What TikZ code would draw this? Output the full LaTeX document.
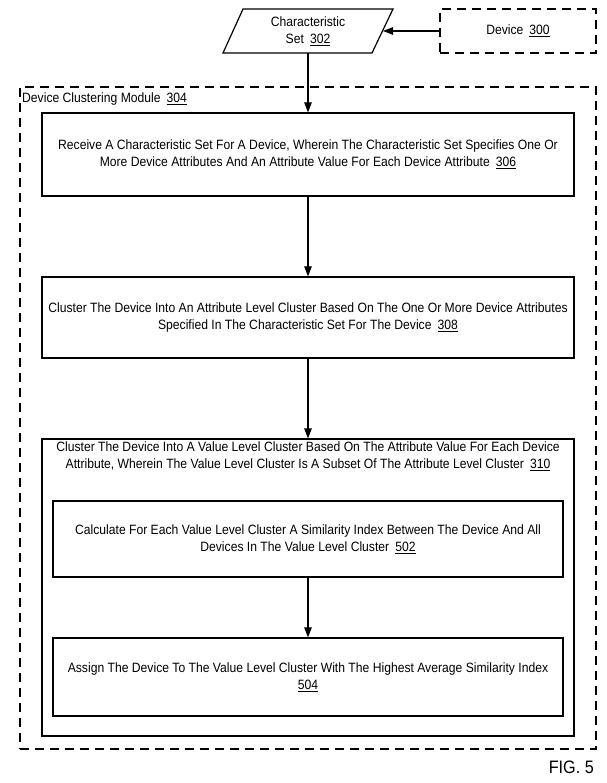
\documentclass[tikz,border=0pt]{standalone}
\usepackage{fontspec}
\setmainfont{Liberation Sans}[FakeStretch=0.9]
\usetikzlibrary{arrows.meta}
\newcommand{\rn}[1]{\hspace{0.45em}\underline{#1}}
\begin{document}
\begin{tikzpicture}[x=1pt,y=-1pt,
  box/.style={draw, line width=1.2pt, inner sep=0pt, font=\fontsize{13.5}{17}\selectfont, align=center},
  txt/.style={font=\fontsize{13.5}{17}\selectfont, align=center, inner sep=0pt},
  arr/.style={-{Triangle[length=10pt,width=7.5pt]}, line width=1.1pt},
  dsh/.style={draw, dash pattern=on 9pt off 6pt, line width=1.2pt, inner sep=0pt}]
\useasboundingbox (0,0) rectangle (606,783);
% outer module
\node[dsh, minimum width=576pt, minimum height=662pt] (mod) at (308,418) {};
\node[txt, anchor=west] (modlabel) at (22,99) {Device Clustering Module\rn{304}};
% characteristic set parallelogram
\draw[line width=1.2pt] (223,53) -- (243,9) -- (393,9) -- (372,53) -- cycle;
\node[txt] (cs) at (308,31) {Characteristic\\Set\rn{302}};
\coordinate (csb) at (308,53);
\coordinate (csr) at (383,31);
% device
\node[dsh, minimum width=156pt, minimum height=44pt, font=\fontsize{13.5}{17}\selectfont] (dev) at (518,31) {Device\rn{300}};
% boxes
\node[box, minimum width=532pt, minimum height=83pt] (b306) at (308,154.5)
 {Receive A Characteristic Set For A Device, Wherein The Characteristic Set Specifies One Or\\More Device Attributes And An Attribute Value For Each Device Attribute\rn{306}};
\node[box, minimum width=532pt, minimum height=81pt] (b308) at (308,317.5)
 {Cluster The Device Into An Attribute Level Cluster Based On The One Or More Device Attributes\\Specified In The Characteristic Set For The Device\rn{308}};
\node[box, minimum width=532pt, minimum height=297pt] (b310) at (308,587.5) {};
\node[txt, anchor=north] (t310) at (308,442)
 {Cluster The Device Into A Value Level Cluster Based On The Attribute Value For Each Device\\Attribute, Wherein The Value Level Cluster Is A Subset Of The Attribute Level Cluster\rn{310}};
\node[box, minimum width=510pt, minimum height=76pt] (b502) at (308,539)
 {Calculate For Each Value Level Cluster A Similarity Index Between The Device And All\\Devices In The Value Level Cluster\rn{502}};
\node[box, minimum width=510pt, minimum height=78pt] (b504) at (308,677)
 {Assign The Device To The Value Level Cluster With The Highest Average Similarity Index\\\underline{504}};
% arrows
\draw[arr] (dev.west) -- (csr);
\draw[arr] (csb) -- (b306.north);
\draw[arr] (b306.south) -- (b308.north);
\draw[arr] (b308.south) -- (b310.north);
\draw[arr] (b502.south) -- (b504.north);
% figure label
\node[anchor=east, font=\fontsize{18}{21}\selectfont, inner sep=0pt] (fig) at (594,767) {FIG. 5};
\end{tikzpicture}
\end{document}
